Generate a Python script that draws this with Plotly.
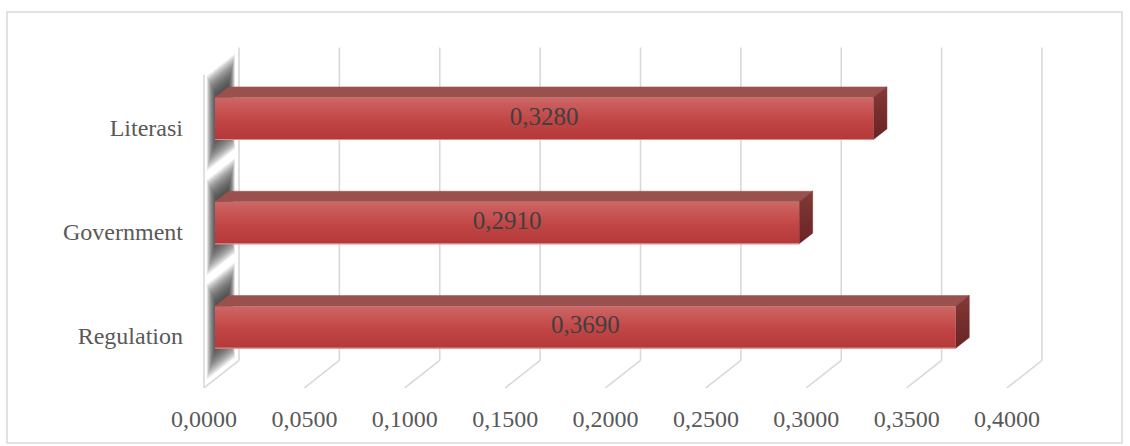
import plotly.graph_objects as go

# ---- data ----
categories = ["Literasi", "Government", "Regulation"]   # top to bottom
values = [0.3280, 0.2910, 0.3690]
tick_values = [0.0, 0.05, 0.10, 0.15, 0.20, 0.25, 0.30, 0.35, 0.40]

# ---- geometry (pixels) ----
W, H = 1130, 446
PLOT_L, PLOT_R, PLOT_T, PLOT_B = 190, 1060, 40, 396
X0_PX, PX_PER_VAL = 204.0, 2007.5          # value 0 on the front plane
CAT0_PX, PX_PER_CAT = 335.8, 104.33         # bottom category centre, front plane
DEPTH_DX_PX, DEPTH_DY_PX = 35.0, 27.5

DX = DEPTH_DX_PX / PX_PER_VAL
DY = DEPTH_DY_PX / PX_PER_CAT
T1, T2 = 0.314, 0.70          # bar front / back depth
HALF = 21.0 / PX_PER_CAT      # half bar height in category units

x_range = [(PLOT_L - X0_PX) / PX_PER_VAL, (PLOT_R - X0_PX) / PX_PER_VAL]
y_range = [(CAT0_PX - PLOT_B) / PX_PER_CAT, (CAT0_PX - PLOT_T) / PX_PER_CAT]

n = len(categories)
cat_pos = [n - 1 - i for i in range(n)]   # Literasi at top
c_lo, c_hi = -0.5, n - 0.5


def proj(v, c, t):
    return v + t * DX, c + t * DY


def poly(pts):
    xs, ys = [], []
    for (v, c, t) in pts:
        x, y = proj(v, c, t)
        xs.append(x)
        ys.append(y)
    xs.append(xs[0])
    ys.append(ys[0])
    return xs, ys


fig = go.Figure()

# ---- gridlines: back wall, floor, left wall ----
gx, gy = [], []
for v in tick_values:
    for a, b in [((v, c_lo, 1), (v, c_hi, 1)), ((v, c_lo, 0), (v, c_lo, 1))]:
        x1, y1 = proj(*a)
        x2, y2 = proj(*b)
        gx += [x1, x2, None]
        gy += [y1, y2, None]
x1, y1 = proj(0, c_lo, 0)
x2, y2 = proj(0, c_hi, 0)
gx += [x1, x2, None]
gy += [y1, y2, None]
fig.add_trace(go.Scatter(x=gx, y=gy, mode="lines",
                         line=dict(color="#d9d9d9", width=1.6),
                         hoverinfo="skip", cliponaxis=False))

# ---- soft shadows on the left wall ----
layers = 18
for c in cat_pos:
    for k in range(layers):
        f = k / layers
        t_a, t_b = 0.08 + 0.32 * f, 0.88 - 0.22 * f
        c_a, c_b = c - 0.44 + 0.30 * f, c + 0.47 - 0.30 * f
        xs, ys = poly([(0, c_a, t_a), (0, c_a, t_b), (0, c_b, t_b), (0, c_b, t_a)])
        fig.add_trace(go.Scatter(x=xs, y=ys, mode="lines", fill="toself",
                                 fillcolor="rgba(45,45,45,0.10)",
                                 line=dict(width=0), hoverinfo="skip"))

# ---- 3D bars ----
for c, v in zip(cat_pos, values):
    # top face
    xs, ys = poly([(0, c + HALF, T1), (v, c + HALF, T1), (v, c + HALF, T2), (0, c + HALF, T2)])
    fig.add_trace(go.Scatter(x=xs, y=ys, mode="lines", fill="toself",
                             fillcolor="#9a504d", line=dict(width=0.5, color="#9a504d"),
                             hoverinfo="skip"))
    # side face
    xs, ys = poly([(v, c - HALF, T1), (v, c - HALF, T2), (v, c + HALF, T2), (v, c + HALF, T1)])
    fig.add_trace(go.Scatter(x=xs, y=ys, mode="lines", fill="toself",
                             fillgradient=dict(type="vertical",
                                               colorscale=[[0, "#6a2323"], [1, "#833a38"]]),
                             line=dict(width=0.5, color="#743030"),
                             hoverinfo="skip"))
    # front face
    xs, ys = poly([(0, c - HALF, T1), (v, c - HALF, T1), (v, c + HALF, T1), (0, c + HALF, T1)])
    fig.add_trace(go.Scatter(x=xs, y=ys, mode="lines", fill="toself",
                             fillgradient=dict(type="vertical",
                                               colorscale=[[0, "#b3393a"], [0.45, "#c24545"],
                                                           [0.8, "#c95a59"], [1, "#cc6866"]]),
                             line=dict(width=0), hoverinfo="skip"))
    # bottom highlight edge
    xa, ya = proj(0, c - HALF, T1)
    xb, yb = proj(v, c - HALF, T1)
    fig.add_trace(go.Scatter(x=[xa, xb], y=[ya, yb], mode="lines",
                             line=dict(color="#dc8d8b", width=1.2), hoverinfo="skip"))

# ---- data labels ----
lx, ly, lt = [], [], []
for c, v in zip(cat_pos, values):
    x, y = proj(v / 2, c, T1)
    lx.append(x)
    ly.append(y)
    lt.append(f"{v:.4f}".replace(".", ","))
fig.add_trace(go.Scatter(x=lx, y=ly, mode="text", text=lt,
                         textfont=dict(family="Liberation Serif", size=25, color="#404040"),
                         hoverinfo="skip"))


def px_to_paper_x(px):
    return (px - PLOT_L) / (PLOT_R - PLOT_L)


def px_to_paper_y(py):
    return (PLOT_B - py) / (PLOT_B - PLOT_T)


fig.update_layout(
    width=W, height=H,
    margin=dict(l=PLOT_L, r=W - PLOT_R, t=PLOT_T, b=H - PLOT_B, pad=0),
    paper_bgcolor="white", plot_bgcolor="white",
    showlegend=False,
    separators=",.",
    xaxis=dict(range=x_range, tickvals=tick_values, tickformat=".4f",
               showgrid=False, zeroline=False, showline=False, ticks="",
               ticklabelstandoff=6,
               tickfont=dict(family="Liberation Serif", size=24, color="#595959"),
               fixedrange=True),
    yaxis=dict(range=y_range, tickvals=cat_pos, ticktext=categories,
               showgrid=False, zeroline=False, showline=False, ticks="",
               ticklabelstandoff=6,
               tickfont=dict(family="Liberation Serif", size=24, color="#595959"),
               fixedrange=True),
    shapes=[dict(type="rect", xref="paper", yref="paper", layer="below",
                 x0=px_to_paper_x(7), x1=px_to_paper_x(1122),
                 y0=px_to_paper_y(443), y1=px_to_paper_y(12),
                 line=dict(color="#d9d9d9", width=1.5), fillcolor="rgba(0,0,0,0)")],
)

fig.write_html("out.html", config={"displayModeBar": False},
               post_script="document.body.style.margin='0';document.body.style.overflow='hidden';")
